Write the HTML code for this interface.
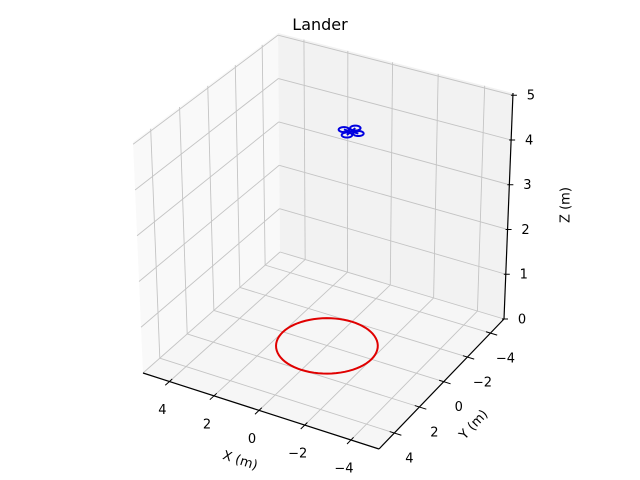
<!DOCTYPE html>
<html><head><meta charset="utf-8"><style>
html,body{margin:0;padding:0;background:#fff;}
svg{display:block;font-family:"DejaVu Sans","Liberation Sans",sans-serif;}
</style></head><body>
<svg id="chart" width="640" height="480" viewBox="0 0 640 480" xmlns="http://www.w3.org/2000/svg">
<rect width="640" height="480" fill="#fff"/>
<text x="320" y="30" text-anchor="middle" font-size="16">Lander</text>
<g id="g"></g>
</svg>
<script>
const xTicks = [-4, -2, 0, 2, 4];
const yTicks = [-4, -2, 0, 2, 4];
const zTicks = [0, 1, 2, 3, 4, 5];
const xTickLabels = ["\u22124", "\u22122", "0", "2", "4"];
const yTickLabels = ["\u22124", "\u22122", "0", "2", "4"];
const zTickLabels = ["0", "1", "2", "3", "4", "5"];
const xLim = [-5.2, 5.2];
const yLim = [-5.2, 5.2];
const zLim = [0, 5.05];
const targetCenter = [0, 0, 0];
const targetRadius = [2];
const dronePos = [0, -2, 4.25];
const droneArm = [0.32];
const rotorRadius = [0.2];

const NS = "http://www.w3.org/2000/svg";
const g = document.getElementById('g');

function solve(A, b) {
  const n = b.length;
  for (let i = 0; i < n; i++) {
    let p = i;
    for (let r = i + 1; r < n; r++) if (Math.abs(A[r][i]) > Math.abs(A[p][i])) p = r;
    [A[i], A[p]] = [A[p], A[i]]; [b[i], b[p]] = [b[p], b[i]];
    for (let r = i + 1; r < n; r++) {
      const f = A[r][i] / A[i][i];
      for (let c = i; c < n; c++) A[r][c] -= f * A[i][c];
      b[r] -= f * b[i];
    }
  }
  const x = new Array(n).fill(0);
  for (let i = n - 1; i >= 0; i--) {
    let s = b[i];
    for (let c = i + 1; c < n; c++) s -= A[i][c] * x[c];
    x[i] = s / A[i][i];
  }
  return x;
}
function homog(src, dst) {
  const A = [], b = [];
  for (let i = 0; i < 4; i++) {
    const [u, v] = src[i], [X, Y] = dst[i];
    A.push([u, v, 1, 0, 0, 0, -u * X, -v * X]); b.push(X);
    A.push([0, 0, 0, u, v, 1, -u * Y, -v * Y]); b.push(Y);
  }
  const h = solve(A, b);
  return (u, v) => {
    const w = h[6] * u + h[7] * v + 1;
    return [(h[0] * u + h[1] * v + h[2]) / w, (h[3] * u + h[4] * v + h[5]) / w];
  };
}
const src = [[xLim[1], yLim[1]], [xLim[0], yLim[1]], [xLim[0], yLim[0]], [xLim[1], yLim[0]]];
const hF = homog(src, [[143, 373], [379, 449], [504, 319], [280, 252]]);
const hT = homog(src, [[133, 142], [376, 212], [513, 93], [278, 33]]);
function P(x, y, z) {
  const f = hF(x, y), t = hT(x, y), s = (z - zLim[0]) / (zLim[1] - zLim[0]);
  return [f[0] + (t[0] - f[0]) * s, f[1] + (t[1] - f[1]) * s];
}
function el(tag, attrs) {
  const e = document.createElementNS(NS, tag);
  for (const k in attrs) e.setAttribute(k, attrs[k]);
  g.appendChild(e);
  return e;
}
function poly(pts, fill, name) {
  const e = el('polygon', { points: pts.map(p => p.join(',')).join(' '), fill: fill });
  
  
}
function line(a, b, stroke, w, name) {
  const e = el('line', { x1: a[0], y1: a[1], x2: b[0], y2: b[1], stroke: stroke, 'stroke-width': w });
  
  
}
function text(x, y, s, anchor, name, extra) {
  const e = el('text', Object.assign({ x: x, y: y, 'font-size': 13, 'text-anchor': anchor, 'dominant-baseline': 'central' }, extra || {}));
  e.textContent = s;
  
  
}
const [x0, x1] = xLim, [y0, y1] = yLim, [z0, z1] = zLim;
poly([P(x1, y1, z0), P(x1, y0, z0), P(x1, y0, z1), P(x1, y1, z1)], '#f9f9f9', 'x-pane');
poly([P(x1, y0, z0), P(x0, y0, z0), P(x0, y0, z1), P(x1, y0, z1)], '#f2f2f2', 'y-pane');
poly([P(x1, y1, z0), P(x0, y1, z0), P(x0, y0, z0), P(x1, y0, z0)], '#f6f6f6', 'floor-pane');
const GC = '#c4c4c4';
xTicks.forEach(v => { line(P(v, y1, z0), P(v, y0, z0), GC, 0.9, 'floor-grid-x'); line(P(v, y0, z0), P(v, y0, z1), GC, 0.9, 'wall-grid-x'); });
yTicks.forEach(v => { line(P(x1, v, z0), P(x0, v, z0), GC, 0.9, 'floor-grid-y'); line(P(x1, v, z0), P(x1, v, z1), GC, 0.9, 'wall-grid-y'); });
zTicks.forEach(v => { line(P(x1, y1, v), P(x1, y0, v), GC, 0.9, 'wall-grid-z'); line(P(x1, y0, v), P(x0, y0, v), GC, 0.9, 'wall-grid-z'); });
line(P(x1, y1, z0), P(x0, y1, z0), '#000', 1.2, 'x-axis-line');
line(P(x0, y1, z0), P(x0, y0, z0), '#000', 1.2, 'y-axis-line');
line(P(x0, y0, z0), P(x0, y0, z1), '#000', 1.2, 'z-axis-line');
xTicks.forEach((v, i) => {
  const a = P(v, y1 - 0.2, z0), b = P(v, y1 + 0.3, z0);
  line(a, b, '#000', 1, 'x-tick');
  const p = P(v, y1, z0);
  text(p[0] - 7, p[1] + 29, xTickLabels[i], 'middle', 'x-tick-label');
});
yTicks.forEach((v, i) => {
  const a = P(x0 + 0.2, v, z0), b = P(x0 - 0.3, v, z0);
  line(a, b, '#000', 1, 'y-tick');
  const p = P(x0, v, z0);
  text(p[0] + 15, p[1] + 26, yTickLabels[i], 'middle', 'y-tick-label');
});
zTicks.forEach((v, i) => {
  const p = P(x0, y0, v);
  line([p[0] - 2, p[1]], [p[0] + 4, p[1]], '#000', 1, 'z-tick');
  text(p[0] + 18, p[1] + 1, zTickLabels[i], 'middle', 'z-tick-label');
});
text(240, 461, 'X (m)', 'middle', 'x-axis-title', { transform: 'rotate(18 240 461)' });
text(474, 425, 'Y (m)', 'middle', 'y-axis-title', { transform: 'rotate(-47 474 425)' });
text(566, 205, 'Z (m)', 'middle', 'z-axis-title', { transform: 'rotate(-90 566 205)' });
function circlePath(cx, cy, cz, r) {
  let d = '';
  for (let k = 0; k <= 72; k++) {
    const a = k / 72 * 2 * Math.PI;
    const p = P(cx + r * Math.cos(a), cy + r * Math.sin(a), cz);
    d += (k ? 'L' : 'M') + p[0].toFixed(2) + ',' + p[1].toFixed(2);
  }
  return d;
}
const tc = el('path', { d: circlePath(targetCenter[0], targetCenter[1], targetCenter[2], targetRadius[0]), fill: 'none', stroke: '#e00000', 'stroke-width': 2 });


const [dx, dy, dz] = dronePos, L = droneArm[0], R = rotorRadius[0];
line(P(dx - L, dy, dz), P(dx + L, dy, dz), '#0000e0', 2, 'drone-arm');
line(P(dx, dy - L, dz), P(dx, dy + L, dz), '#0000e0', 2, 'drone-arm');
[[L, 0], [-L, 0], [0, L], [0, -L]].forEach(o => {
  const r = el('path', { d: circlePath(dx + o[0], dy + o[1], dz, R), fill: 'none', stroke: '#0000e0', 'stroke-width': 2 });
  
  
});
</script>
</body></html>
